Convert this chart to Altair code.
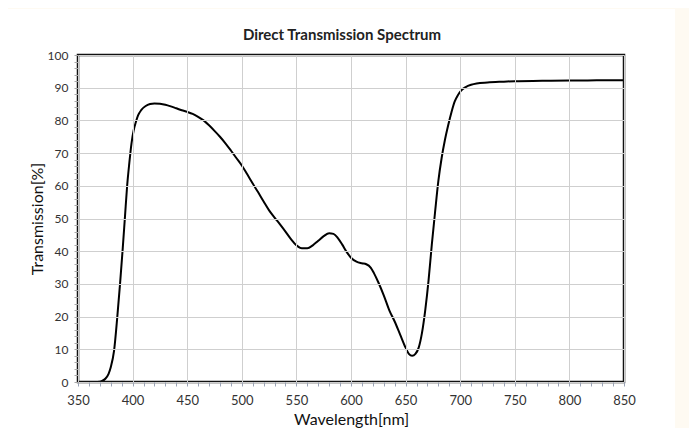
import altair as alt
import pandas as pd

wavelength = [350, 360, 365, 370, 372, 375, 378, 380, 383, 386, 388.5, 391, 393, 395, 397, 399,
              401, 403, 405, 408, 412, 416, 420, 425, 430, 435, 440, 445, 450, 455, 460, 465,
              470, 475, 480, 485, 490, 495, 500, 505, 510, 515, 520, 525, 530, 535, 540, 545,
              550, 555, 560, 565, 570, 575, 580, 584, 588, 592, 596, 600, 605, 610, 614, 618,
              621, 625, 630, 635, 640, 645, 650, 653, 656, 659, 662, 665, 668, 671, 674, 677,
              680, 683, 686, 689, 692, 695, 698, 701, 705, 710, 715, 725, 740, 750, 775, 800,
              825, 850]
transmission = [0, 0, 0, 0.1, 0.3, 1, 2.5, 4.5, 9.5, 20, 30, 41, 50.5, 60, 67, 73,
                77, 79.5, 81.5, 83.2, 84.4, 85, 85.2, 85.1, 84.8, 84.3, 83.7, 83.1, 82.6, 82, 81.1, 80,
                78.5, 76.8, 75, 73, 70.8, 68.5, 66.2, 63.5, 60.7, 58, 55.2, 52.5, 50.3, 48.2, 46, 43.7,
                41.8, 40.9, 40.9, 41.8, 43.2, 44.6, 45.5, 45.3, 44, 42, 39.8, 38, 36.8, 36.3, 36.0, 35,
                33.3, 30.5, 26.5, 22, 18.5, 14.5, 10.5, 8.6, 8.0, 8.6, 10.5, 15, 22, 31, 42, 52,
                61.5, 68.5, 74, 78.5, 82.5, 85.8, 87.8, 89.2, 90.2, 90.9, 91.3, 91.6, 91.85, 92.0, 92.1, 92.2,
                92.25, 92.3]

x_ticks = list(range(350, 851, 10))
y_ticks = list(range(0, 101, 2))
chart_title = ["Direct Transmission Spectrum"]

df = pd.DataFrame({"wl": wavelength, "t": transmission})
one = pd.DataFrame({"label": chart_title})

W, H = 546, 327
FONT = "Lato"

x_scale = alt.Scale(domain=[350, 850], nice=False, zero=False)
y_scale = alt.Scale(domain=[0, 100], nice=False)

x_axis = alt.Axis(
    values=x_ticks,
    labelExpr="datum.value % 50 === 0 ? datum.label : ''",
    labelOverlap=False, labelFlush=False,
    gridOpacity={"condition": {"test": "datum.value % 50 === 0", "value": 1}, "value": 0},
    gridColor="#cfcfcf", gridWidth=1,
    tickColor="#9aa3b5", tickSize=4, tickWidth=1,
    domain=False,
    labelFont=FONT, labelFontSize=13, labelColor="#333333", labelPadding=8,
    title="Wavelength[nm]", titleFont=FONT, titleFontSize=16, titleFontWeight="normal",
    titleColor="#111111", titlePadding=4,
    zindex=1,
)
y_axis = alt.Axis(
    values=y_ticks,
    labelExpr="datum.value % 10 === 0 ? datum.label : ''",
    labelOverlap=False, labelFlush=False,
    gridOpacity={"condition": {"test": "datum.value % 10 === 0", "value": 1}, "value": 0},
    gridColor="#cfcfcf", gridWidth=1,
    tickColor="#a8a8a8", tickSize=4, tickWidth=1,
    domain=False,
    labelFont=FONT, labelFontSize=12, labelColor="#333333", labelPadding=6,
    title="Transmission[%]", titleFont=FONT, titleFontSize=16, titleFontWeight="normal",
    titleColor="#111111", titlePadding=2,
    zindex=1,
)

panel = alt.Chart(one).mark_rect(color="white").encode(
    x=alt.value(-73), x2=alt.value(597), y=alt.value(-46), y2=alt.value(400)
)

title = alt.Chart(one).mark_text(
    font=FONT, fontSize=15, fontWeight="bold", color="#222222",
    align="center", baseline="middle"
).encode(x=alt.value(264), y=alt.value(-20), text="label:N")

line = alt.Chart(df).mark_line(color="black", strokeWidth=2, interpolate="monotone").encode(
    x=alt.X("wl:Q", scale=x_scale, axis=x_axis),
    y=alt.Y("t:Q", scale=y_scale, axis=y_axis),
)

frame = alt.Chart(one).mark_rect(filled=False, stroke="#111111", strokeWidth=2.5).encode(
    x=alt.value(0), x2=alt.value(W), y=alt.value(0), y2=alt.value(H)
)

chart = alt.layer(panel, title, line, frame).properties(
    width=W, height=H,
    background="#fefaf2",
    padding={"left": 70, "top": 47, "right": 65, "bottom": 46},
    autosize=alt.AutoSizeParams(type="none"),
).configure_view(stroke=None)

chart.save("out.html", embed_options={"renderer": "svg", "actions": False})
